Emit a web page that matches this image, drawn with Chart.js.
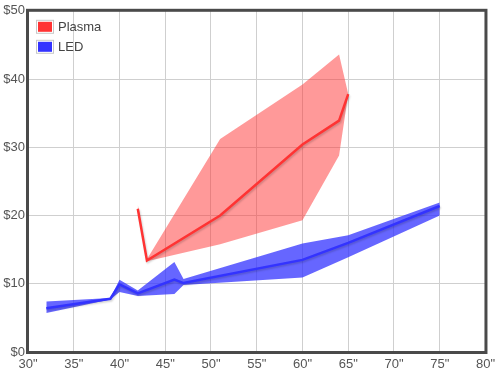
<!DOCTYPE html>
<html>
<head>
<meta charset="utf-8">
<script src="https://cdn.jsdelivr.net/npm/chart.js@4.4.1/dist/chart.umd.min.js"></script>
<style>
html,body{margin:0;padding:0;background:#fff;}
#wrap{width:500px;height:375px;position:relative;}
</style>
</head>
<body>
<div id="wrap"><canvas id="c" width="500" height="375"></canvas></div>
<script>
// ---- data ----
const plasmaSizes = [42, 43, 51, 60, 64, 65];
const plasmaPrice = [21.0, 13.4, 20.0, 30.4, 33.9, 37.8];
const plasmaHigh  = [21.6, 13.6, 31.2, 39.2, 43.6, 37.8];
const plasmaLow   = [20.8, 13.3, 15.8, 19.3, 28.8, 37.8];

const ledSizes = [32, 39, 40, 42, 46, 47, 60, 65, 75];
const ledPrice = [6.4, 7.8, 9.9, 8.6, 10.6, 10.1, 13.5, 16.0, 21.4];
const ledHigh  = [7.4, 7.9, 10.6, 9.0, 13.2, 10.7, 15.9, 17.1, 21.9];
const ledLow   = [5.7, 7.7, 8.8, 8.2, 8.5, 9.8, 10.9, 13.9, 20.0];

const seriesNames = ["Plasma", "LED"];
const xTicks = [30, 35, 40, 45, 50, 55, 60, 65, 70, 75, 80];
const yTicks = [0, 10, 20, 30, 40, 50];

const pts = (xs, ys) => xs.map((x, i) => ({x: x, y: ys[i]}));

const RED = '#ff3333', BLUE = '#3333ff';
const FONT = '"Liberation Sans", Arial, sans-serif';

const framePlugin = {
  id: 'frame',
  beforeDatasetsDraw(chart) {},
  afterDraw(chart) {
    const a = chart.chartArea, ctx = chart.ctx;
    ctx.save();
    ctx.strokeStyle = '#4a4a4a';
    ctx.lineWidth = 3;
    ctx.strokeRect(a.left - 0.5, a.top - 0.5, a.right - a.left + 1, a.bottom - a.top + 1);
    // legend
    const items = [{label: chart.data.datasets[0].label, color: RED},
                   {label: chart.data.datasets[1].label, color: BLUE}];
    ctx.font = '13px ' + FONT;
    ctx.textBaseline = 'middle';
    items.forEach((it, i) => {
      const bx = a.left + 8, by = a.top + 9 + i * 20;
      ctx.fillStyle = '#fff';
      ctx.fillRect(bx, by, 18, 14);
      ctx.strokeStyle = '#c8c8c8';
      ctx.lineWidth = 1;
      ctx.strokeRect(bx + 0.5, by + 0.5, 17, 13);
      ctx.fillStyle = it.color;
      ctx.fillRect(bx + 2, by + 2, 14, 10);
      ctx.fillStyle = '#444';
      ctx.fillText(it.label, bx + 22, by + 7.5);
    });
    ctx.restore();
  }
};

const shadowPlugin = {
  id: 'lineShadow',
  beforeDatasetDraw(chart, args) {
    if (args.index < 2) {
      const ctx = chart.ctx;
      ctx.save();
      ctx.shadowColor = 'rgba(0,0,0,0.18)';
      ctx.shadowBlur = 2;
      ctx.shadowOffsetX = 1;
      ctx.shadowOffsetY = 1.5;
    }
  },
  afterDatasetDraw(chart, args) {
    if (args.index < 2) chart.ctx.restore();
  }
};

new Chart(document.getElementById('c'), {
  type: 'line',
  data: {
    datasets: [
      {label: seriesNames[0], data: pts(plasmaSizes, plasmaPrice), borderColor: RED, borderWidth: 2.5, pointRadius: 0, fill: false, order: 0, tension: 0},
      {label: seriesNames[1], data: pts(ledSizes, ledPrice), borderColor: BLUE, borderWidth: 2.5, pointRadius: 0, fill: false, order: 0, tension: 0},
      {label: 'Plasma high', data: pts(plasmaSizes, plasmaHigh), borderWidth: 0, borderColor: 'rgba(0,0,0,0)', pointRadius: 0, fill: '+1', backgroundColor: 'rgba(255,51,51,0.5)', order: 2},
      {label: 'Plasma low', data: pts(plasmaSizes, plasmaLow), borderWidth: 0, borderColor: 'rgba(0,0,0,0)', pointRadius: 0, fill: false, order: 2},
      {label: 'LED high', data: pts(ledSizes, ledHigh), borderWidth: 0, borderColor: 'rgba(0,0,0,0)', pointRadius: 0, fill: '+1', backgroundColor: 'rgba(51,51,255,0.75)', order: 2},
      {label: 'LED low', data: pts(ledSizes, ledLow), borderWidth: 0, borderColor: 'rgba(0,0,0,0)', pointRadius: 0, fill: false, order: 2}
    ]
  },
  options: {
    responsive: false,
    animation: false,
    events: [],
    layout: {padding: {top: 8, right: 11, left: 0, bottom: 0}},
    plugins: {legend: {display: false}, tooltip: {enabled: false}},
    scales: {
      x: {
        type: 'linear', min: 30, max: 80,
        afterBuildTicks: (s) => { s.ticks = xTicks.map(v => ({value: v})); },
        afterFit: (s) => { s.height = 23; },
        grid: {color: '#cfcfcf', lineWidth: 1, drawTicks: false},
        border: {display: false},
        ticks: {padding: 5, color: '#555', font: {family: FONT, size: 13}, maxRotation: 0, callback: v => v + '"'}
      },
      y: {
        type: 'linear', min: 0, max: 50,
        afterBuildTicks: (s) => { s.ticks = yTicks.map(v => ({value: v})); },
        afterFit: (s) => { s.width = 28; },
        grid: {color: '#cfcfcf', lineWidth: 1, drawTicks: false},
        border: {display: false},
        ticks: {padding: 3, color: '#555', font: {family: FONT, size: 13}, callback: v => '$' + v}
      }
    }
  },
  plugins: [shadowPlugin, framePlugin]
});
</script>
</body>
</html>
